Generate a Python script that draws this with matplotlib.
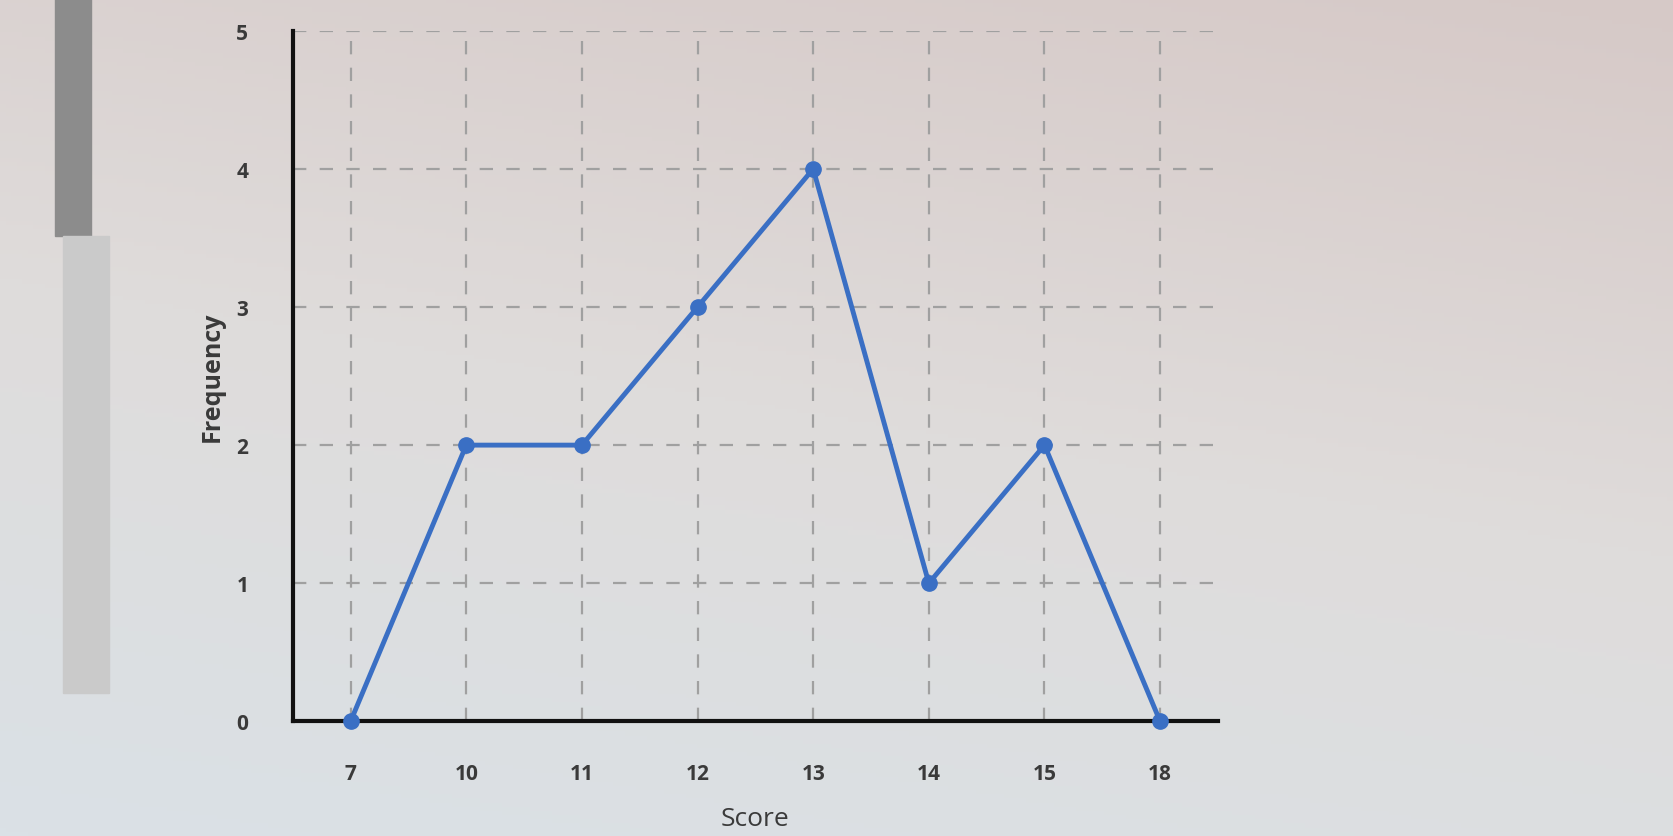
import numpy as np
import matplotlib
matplotlib.use("Agg")
import matplotlib.pyplot as plt
from matplotlib.patches import Rectangle
from matplotlib.colors import LinearSegmentedColormap

scores = ["7", "10", "11", "12", "13", "14", "15", "18"]
frequency = [0, 2, 2, 3, 4, 1, 2, 0]
y_ticks = [0, 1, 2, 3, 4, 5]

plt.rcParams['font.family'] = ['Open Sans', 'DejaVu Sans']

fig = plt.figure(figsize=(16.73, 8.37), dpi=100)

# photographed-screen background gradient
bg = fig.add_axes([0, 0, 1, 1], zorder=-10)
cmap = LinearSegmentedColormap.from_list("bg", ["#d6c9c7", "#dfdcdb", "#dae1e6"])
yy = np.linspace(0, 1, 200)[:, None]
xx = np.linspace(0, 1, 300)[None, :]
grad = 0.75 * yy + 0.25 * (1 - xx)
bg.imshow(grad, cmap=cmap, aspect="auto", extent=[0, 1, 0, 1], origin="upper")
bg.add_patch(Rectangle((55 / 1673, 1 - 237 / 837), 36 / 1673, 237 / 837, color="#8c8c8c"))
bg.add_patch(Rectangle((63 / 1673, 1 - 694 / 837), 46 / 1673, 457 / 837, color="#cacaca"))
bg.set_xlim(0, 1); bg.set_ylim(0, 1)
bg.axis("off")

ax = fig.add_axes([0.175, 0.137, 0.553, 0.825])
ax.set_facecolor("none")
x = np.arange(len(scores))
ax.plot(x, frequency, color="#3a6fc4", lw=3.5, marker="o", ms=11, zorder=3, clip_on=False)

ax.set_xlim(-0.5, 7.5)
ax.set_ylim(0, 5)
ax.set_xticks(x)
ax.set_xticklabels(scores)
ax.set_yticks(y_ticks)
ax.tick_params(axis="both", length=0, labelsize=15, labelcolor="#3a3a3a")
ax.tick_params(axis="x", pad=30)
ax.tick_params(axis="y", pad=32)
for lbl in ax.get_xticklabels() + ax.get_yticklabels():
    lbl.set_fontweight("bold")

ax.grid(True, color="#a0a0a0", linestyle=(0, (6, 6)), lw=1.6)
for s in ["top", "right"]:
    ax.spines[s].set_visible(False)
ax.spines["left"].set_linewidth(3)
ax.spines["bottom"].set_linewidth(3)
ax.spines["left"].set_color("#111111")
ax.spines["bottom"].set_color("#111111")

ax.set_xlabel("Score", fontsize=19, color="#3a3a3a", labelpad=16)
ax.set_ylabel("Frequency", fontsize=18, color="#3a3a3a", fontweight="bold", labelpad=8)

fig.savefig("out.png", dpi=100)
